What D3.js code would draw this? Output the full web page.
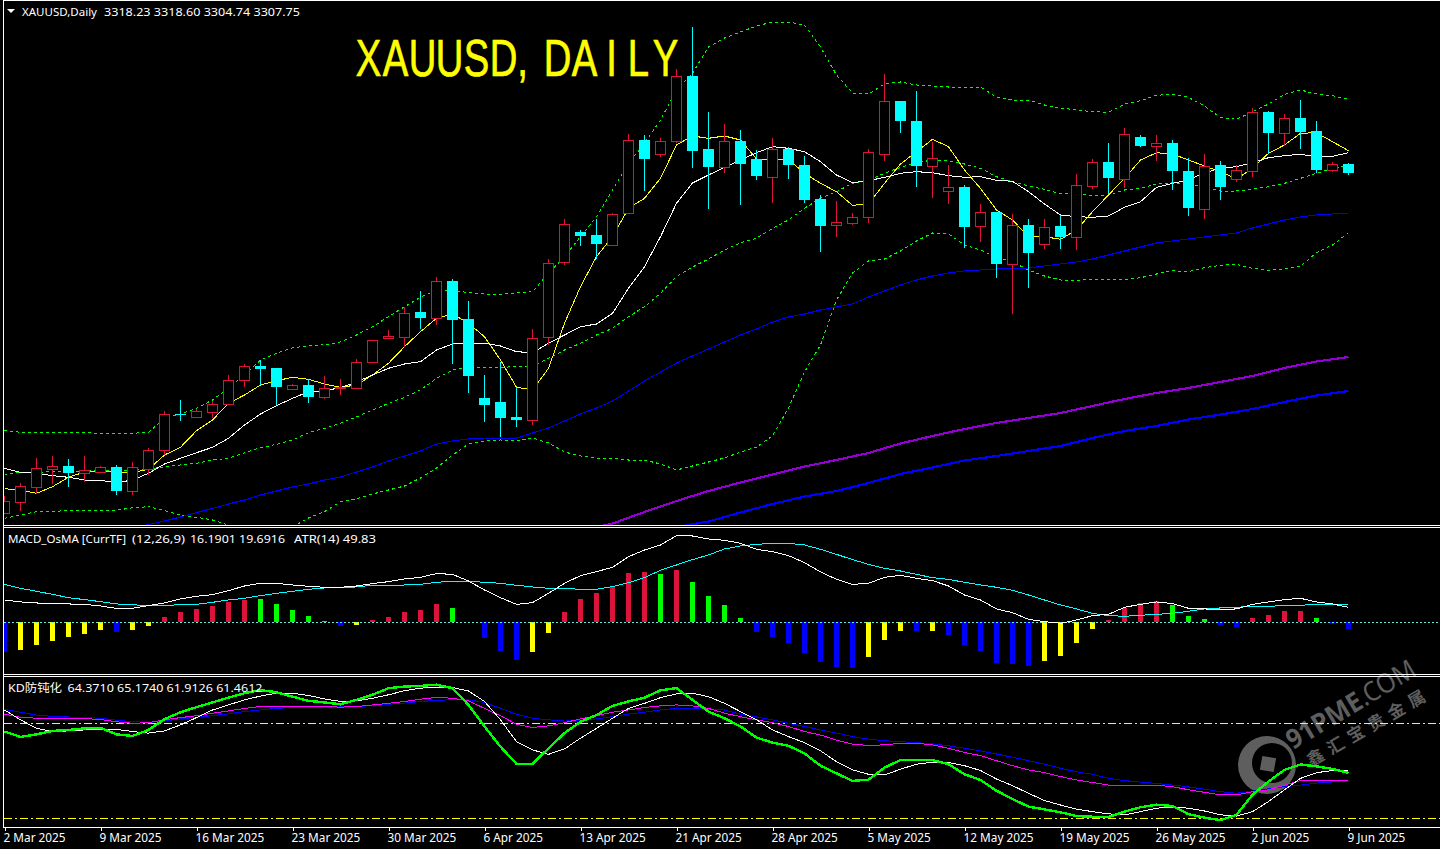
<!DOCTYPE html>
<html><head><meta charset="utf-8">
<script src="https://cdn.jsdelivr.net/npm/d3@7"></script>
<style>html,body{margin:0;padding:0;background:#000;overflow:hidden}svg{display:block}
text{font-family:"Noto Sans","Noto Sans CJK SC",sans-serif;fill:#fff}</style></head>
<body><svg id="c" width="1440" height="849"></svg>
<script>
const barOpen=[2969,2979.7,2995.3,3013.3,3016,3009.3,3010.3,3015,2991.3,3013.3,
3031.7,3068.3,3065.3,3070.3,3078.3,3101.7,3116,3114,3093.3,3097,
3085.3,3093.7,3094.5,3119.7,3143.7,3145.3,3170,3164.3,3201,3163,
3084,3080,3065,3062.3,3144.7,3220.3,3250,3247,3237.3,3269.3,
3342,3328.3,3340.7,3406,3333,3315.3,3341,3323,3305.3,3333.3,
3317,3283,3257.3,3258.7,3265.3,3328.3,3381,3361,3316.3,3291.3,
3295,3256.3,3270,3218.3,3257,3238.5,3256,3245.3,3296.3,3320,
3303.3,3345,3336.3,3339,3311,3273.3,3317,3303.3,3311.3,3370,
3349.3,3364,3351,3312.3,3318.23];
const barHigh=[2986,2999,3024,3026,3023,3026,3016,3016.7,3020,3034,
3070.7,3082,3073.3,3080.7,3106.7,3118,3122,3114,3098,3102.7,
3106,3103,3123,3142,3151.7,3174.7,3191,3205,3203,3181,
3107,3120.3,3095.3,3153,3223,3263,3252,3263,3268.7,3348,
3346.7,3343.7,3412.7,3455,3370,3357.7,3352,3332,3343.7,3334.7,
3326,3287,3281,3268.7,3333,3408,3381,3391,3340,3316.7,
3297,3278,3270,3268,3263,3262.7,3267,3308,3323,3338.7,
3354,3347,3346.7,3341.7,3323.7,3328,3321,3317,3374,3371,
3368,3382,3361,3320,3318.6];
const barLow=[2968,2971.3,2988,2998,2995.3,3000.3,3009.3,2987,2987,3007.3,
3027,3061,3065.3,3064,3078.3,3095.3,3097,3077,3093.3,3079.3,
3083,3087.3,3094.5,3119.7,3142.7,3134.7,3153,3157,3118,3089.3,
3060.3,3045.3,3055.3,3057.3,3137,3217,3236.3,3223,3236,3269.3,
3291.3,3325,3339.3,3314.3,3273.3,3309.3,3277.3,3302,3279.3,3303,
3279.3,3230.3,3245.3,3257,3259.3,3321.3,3349.3,3295.3,3284.3,3278,
3234,3240.3,3204,3168.3,3194,3233,3233,3232,3293,3288,
3294,3335,3321,3292,3266,3263,3282,3300.3,3305,3328,
3336.3,3333,3309,3310,3307];
const barClose=[2981,2995.7,3013.7,3016,3009.3,3012,3014.7,2991.3,3014.7,3031.7,
3067.7,3067,3070.7,3077.7,3101.7,3115.7,3113,3095.3,3096.7,3085.3,
3093.7,3094.7,3119.7,3141.7,3145.7,3168.7,3164,3200.7,3162.3,3106.3,
3077.3,3064.3,3062,3143.7,3218.7,3257.7,3246,3238,3267.7,3341.7,
3323.3,3340.7,3405.7,3331.3,3315.3,3340.7,3318,3306.3,3333,3317,
3282,3256.3,3259.7,3264.7,3329.7,3380.7,3361,3316,3323.7,3294.7,
3255.3,3269.7,3218,3256.7,3229.3,3254.7,3245,3296.7,3319.7,3304,
3347.7,3336,3338.7,3311,3274,3315.7,3295,3311.7,3369.7,3349,
3363.7,3350,3312,3317.7,3309.3];
const maFast=[2993.3,2992,2988.7,2995.3,3004.7,3010,3011.3,3010.3,3009.3,3012.7,3027,3034.7,3051.3,3062,3078.7,3087,3097,3101.3,3104.7,3102.7,3098,3094.7,3097,
3107,3118.7,3135.3,3150.3,3163.7,3168,3158.7,3145.3,3122,3094.7,3092,3113.7,3158.7,3195.3,3225.3,3245.3,3273.7,3283.7,3303.7,3337,3346,
3343.7,3346,3342,3323,3322.7,3322.7,3308.7,3298.7,3290.3,3276.7,3278,3298.7,3318,3330.3,3342.7,3335.3,3312,3293.7,3272,3262,3245.3,
3245.3,3242.7,3252,3270.3,3287,3303.7,3322,3329.3,3328,3322,3316,3310.3,3303,3313.7,3328.7,3337,3348.7,3349.3,3340.3,3331.3];
const maSlow=[3013.7,3009.7,3008.7,3006.3,3004.7,3002,3001.7,2999.3,3002,3008.7,3018,3023.7,3029.3,3034.7,3043.7,3057,3068,3076.3,3083.7,3090.3,3091.3,3094.3,3100,
3107,3113.7,3118,3120.3,3132,3138,3139,3138.7,3136,3130.3,3129.3,3138.7,3147,3155.3,3158,3168.7,3193.7,3215.3,3245.3,3278.7,3299,
3307,3314.7,3322,3329.3,3335.3,3333.7,3330.3,3320.3,3307,3299.3,3301.3,3304.7,3308.7,3310.3,3309.3,3306.3,3304.7,3305.3,3301.7,3300.7,3290.3,
3278,3267,3265.3,3264.7,3266,3274.7,3280.3,3294.7,3298.7,3302,3309.3,3313.7,3315.3,3319.3,3324.3,3326.3,3327.7,3325.3,3325.7,3329.3];
const bollUpper=[3051.7,3049.7,3049.7,3049.7,3049.7,3049.3,3048.7,3048.7,3048.7,3049.7,3063.7,3068,3073.7,3082,3093.7,3107,3122,3128.7,3134.3,3136,3137.3,3140,3147,
3155.3,3165.3,3175.3,3184.7,3192,3192,3189.3,3188,3187.7,3189,3190.3,3208.7,3225.3,3245.3,3265.3,3292,3318.7,3338.7,3362,3392,3408.7,
3435,3444,3450,3456,3460,3460,3457,3435,3407,3389,3388,3398,3400,3397,3396,3395,3395,3395,3385,3382,3382,
3377,3374,3372,3370.3,3369.7,3378,3381.3,3386.7,3387.7,3384.7,3376,3364.3,3362.7,3370.3,3378,3387.7,3392,3388,3386.3,3382.7];
const bollMid=[3007.7,3010,3009.7,3010.3,3010.3,3011,3011.7,3012,3012,3012.7,3015.3,3017,3018.7,3022,3023.7,3029.3,3034.3,3037.7,3042,3049.3,3053.7,3058.7,3065,
3072,3078.7,3084.7,3092,3103.7,3112,3114.7,3114.7,3114.7,3115.3,3116,3123.7,3132,3138.7,3147,3153.7,3165.3,3175.3,3188.7,3205.3,3215,
3223,3232,3239.3,3243.7,3253.7,3262,3273.7,3283.7,3290.3,3298.7,3302,3308.7,3314.7,3319.3,3322,3321,3318,3313.7,3305.3,3300.3,3296,
3292.7,3288,3288.7,3286.3,3287,3292,3293.7,3298,3299.3,3298,3294.7,3291,3291,3292.7,3295.3,3298.7,3303.7,3308.7,3313.7,3317];
const bollLower=[2963.7,2967,2970.3,2970.3,2971.7,2971.7,2971.7,2971.7,2974.3,2975.3,2971.3,2967,2964.7,2962,2957,2952,2948,2947,2955,2964,2970.3,2980.3,2983.3,
2988,2992,2996,3004,3014,3027,3038,3041,3042,3041,3044,3039,3030,3026,3024,3024,3022,3022,3018,3012,3016,
3020,3024,3030,3035,3046,3074,3110,3137,3182,3209,3221,3223,3231,3241,3249,3248,3237,3232,3225,3220,3212,
3206,3202,3201.7,3202.7,3202.7,3202,3204.3,3208,3211.3,3210.3,3214.3,3216.7,3217.7,3213.7,3211.7,3213,3216,3229.3,3237,3249.3];
const maMidFirstBar=8;
const maMid=[2954,2957.5,2961,2965,2969.5,2973.5,2978,2982,2987,2991,2995,2998,3002,3005,3010,3015,3021,3026,3031,3038,3041,3043,3044,3044,3044,3049,3054,3061,3068,3074,3081,3091,3101,3110,3119,3126,
3133,3140,3147,3153,3160,3165,3168,3172,3175,3178,3185,3191,3197,3202,3206,3209,3211,3212,3213,3214,3214,3216,3218,
3220,3223,3227,3231,3235,3239,3241,3243,3245,3247,3249,3254,3258,3262,3265,3267,3268,3269];
const maLongBars=[36,38,40,42,44,46,48,50,52,54,56,58,60,62,64,66,68,70,72,74,76,78,80,82,84];
const maLong=[2951,2958.5,2970,2981,2991,2999.5,3007.5,3015.5,3022,3029,3038.5,3046,3053,3059,3064,3069,3076,3083,3089,3094,3100,3106,3114,3120.5,3125];
const maLonger2Bars=[42,44,46,48,50,52,54,56,58,60,62,64,66,68,70,72,74,76,78,80,82,84];
const maLonger2=[2955,2960.5,2969.5,2978,2985.5,2991,2999,3008,3014.5,3021.5,3026,3031,3036,3044,3051,3056,3062.5,3067.5,3073,3080,3086.5,3091];
const osma=[-15.75,-14.5,-11.9,-9.8,-7.7,-6.1,-4,-5.1,-4,-1.9,2.8,5.4,7,8.6,10.7,11.9,12.3,9.6,6.5,3.3,0.7,-1.9,-1.4,1.2,2.8,5.4,6.5,9.6,7.5,0,-8.4,-15,-19.8,-15.6,-5.6,5.4,12.3,15.4,18.6,25.9,26.4,25.4,27.5,21.2,13.8,
9.1,2.3,-5.1,-7.7,-10.9,-16.1,-20.8,-23.5,-24,-18.2,-9.3,-4.6,-4.6,-4.6,-6.7,-11.9,-15,-21.4,-21.9,-22.9,-20.3,-17.7,-10.9,-3.5,1.2,7.5,10.2,11.2,9.1,3.3,1.8,-1.4,-2.5,2.3,3.9,6,6,2.3,-0.9,-3.5];
const osmaColorKey=["b","y","y","y","y","y","y","b","y","y","r","r","r","r","r","r","g","g","g","g","g","b","y","r","r","r","r","r","g","g","b","b","b","y","y","r","r","r","r","r","r","g","r","g","g",
"g","g","b","b","b","b","b","b","b","y","y","y","b","y","b","b","b","b","b","b","y","y","y","y","r","r","r","r","g","g","g","b","b","r","r","r","r","g","b","b"];
const macdLine=[24.1,22,20.9,19.8,19.8,19.4,17.6,15.1,15.1,18,20.9,25.2,28.1,29.9,34.2,39.2,42.1,42.1,40.3,38.9,37.8,37.8,39.2,41.8,43.9,46.8,48.6,52.6,51.8,44.6,34.9,26.6,19.4,21.2,31.3,42.1,50.4,54.7,59.4,70.9,78.1,83.5,93.6,93.2,90,
88.6,85.3,78.8,76.3,72,64.4,54.4,46.4,41,42.1,48.6,50.8,47.5,45,39.2,29.5,24.1,14.4,10.4,3.2,0.7,-1.1,2.5,7.2,8.6,16.2,19.4,22,20.2,15.1,14.4,14,14.4,19.4,22,24.5,25.9,22,19.8,16.19];
const macdSignal=[41,36.7,33.5,30.2,26.6,24.5,22.3,19.8,19.1,17.6,18,19.1,19.4,21.6,24.1,25.9,28.8,31.3,33.5,35.6,37.1,37.4,38.2,40,40,40.3,41,43.2,44.3,44.3,43.2,42.1,40,38.2,36.7,36.7,35.6,35.6,38.5,42.8,48.2,56.2,61.9,67.7,72.7,
79.2,82.4,84.2,85.3,85.3,83.5,78.8,73.4,67.7,62.6,58.3,55.4,51.8,48.2,46.4,43.2,40.3,37.8,34.6,29.5,24.1,18.7,14.4,9.7,7.2,6.5,7.6,8.6,9.7,11.9,14.4,15.5,16.2,17.3,17.3,18,18.4,19.4,19.4,19.69];
const kdK1=[77.4,75.7,76.5,77.6,77.9,78.4,78.6,76.5,76,77.9,81.3,83.5,85.1,86.6,88.1,89.5,90.5,89.8,88.4,87.1,86.6,86,87.4,89,91.1,91.6,91.8,92.2,91.1,85.8,79,72.6,67.2,67.2,72.1,76.9,80.5,82.6,85.5,86.9,88.1,90.4,91.1,87.4,83.7,
81.6,79,75.5,73.9,72.9,70.5,66.6,64.2,61.8,62.2,66,68.4,68.4,68.4,67.1,63.9,62.1,58.7,56.1,53.7,52.8,51.9,50.7,50.5,50.4,52.1,53.5,54.3,53.9,51.3,50.2,49.4,51.1,57.4,61.6,65.3,67,66.4,65.6,64.37];
const kdD1=[84.2,81.1,78.4,77.4,77.6,77.9,78.1,78.1,77.4,76.9,77.6,79.5,81.8,84.2,85.8,87.4,88.6,89.5,89.5,88.8,87.7,86.9,87.1,87.9,89,90.3,91.1,91.4,91.3,90.2,86.9,81.1,74.2,71.6,70.2,71.9,75.3,78.4,81.6,84.7,86.3,88.1,89.3,89.5,88.4,
86.3,83.7,81.1,77.9,75.8,73.9,71.3,67.9,65.3,63.9,63.7,65.5,67.1,67.7,67.6,66.6,65.1,62.4,60.3,57.9,55.6,54.2,52.9,52.1,51.4,51.1,52.1,53.2,53.5,53.2,52.3,51.1,50.7,52.1,55.3,59,62.6,64.4,65.1,65.174];
const kdK2=[82.9,81.9,81.6,81.6,81.6,81.5,81.2,80.5,80,80.2,81.1,81.8,82.4,83.2,83.9,84.7,85.3,85.4,85.4,85.3,85.3,85.1,85.3,85.8,86.3,86.9,87.6,88.2,87.9,87.1,84.7,82.4,79.7,78.7,79.2,80.2,81.4,82.4,83.5,84.2,85,85.5,85.8,85.5,84.7,
83.2,82.1,81.1,80.2,79,77.4,76.3,74.7,73.4,73,73.2,73.7,73.7,73.2,72.1,70.8,69.8,68.2,66.6,65.3,64.4,63.2,62.1,61.3,60.5,60.4,60.4,60.4,60,59,58.2,57.4,57.4,58.4,59,60.5,61.9,62,61.9,61.9126];
const kdD2=[84.4,83.5,82.6,82.2,82,81.8,81.6,81,80.5,80.3,80.7,81.4,81.9,82.4,83,83.7,84.2,84.7,85,85.1,85.1,85.2,85.3,85.6,86,86.4,86.9,87.2,87.5,87.4,86.6,84.7,82.9,81.6,81.1,80.7,81,81.4,82.1,82.9,83.5,84.2,84.7,84.7,84.5,
84.2,82.9,82,81.1,80,79,77.9,76.9,75.8,75,74.5,74.2,73.9,73.5,72.9,72.1,71.3,70.3,69.3,68.2,67.1,65.8,64.7,63.9,62.6,61.9,61.4,61,60.5,59.9,59.2,58.4,57.9,58.6,59.3,60,60.5,61.1,61.5,61.4612];
const kdLevels=[80,50];
const tickBars=[0,6,12,18,24,30,36,42,48,54,60,66,72,78,84];
const tickLabels=["2 Mar 2025","9 Mar 2025","16 Mar 2025","23 Mar 2025","30 Mar 2025","6 Apr 2025","13 Apr 2025","21 Apr 2025","28 Apr 2025","5 May 2025","12 May 2025","19 May 2025","26 May 2025","2 Jun 2025","9 Jun 2025"];
const headerMain=["XAUUSD,Daily","3318.23 3318.60 3304.74 3307.75"];
const headerMacd=["MACD_OsMA [CurrTF]","(12,26,9)","16.1901 19.6916","ATR(14) 49.83"];
const headerKd=["KD防钝化","64.3710 65.1740 61.9126 61.4612"];
const titleText="XAUUSD,DAILY";

const UP="#dc143c",DOWN="#00ffff";
const osmaColors={r:"#dc143c",g:"#00ff00",b:"#0000ff",y:"#ffff00"};
const svg=d3.select("#c");
const x=d3.scaleLinear().domain([0,84]).range([4,1348]);
const y=d3.scaleLinear().domain([3480,2957]).range([2,525]);
const yMacd=d3.scaleLinear().domain([0,108]).range([622.3,522.3]);
const yOsma=d3.scaleLinear().domain([0,52.5]).range([622.3,522.3]);
const yKd=d3.scaleLinear().domain([50,80]).range([818.3,723.3]);

// watermark sits behind everything
const WM="#5e5e5e";
const wm=svg.append("g");
const ring=d3.path();
ring.arc(1267,765,29,0,2*Math.PI);ring.closePath();
ring.moveTo(1292,763);ring.arc(1272,763,20,0,2*Math.PI);ring.closePath();
wm.append("path").attr("fill-rule","evenodd").attr("fill",WM).attr("d",ring.toString());
wm.append("rect").attr("x",-7).attr("y",-7).attr("width",14).attr("height",14).attr("fill",WM).attr("transform","translate(1268,764) rotate(10)");
const wt=wm.append("g").attr("transform","translate(1293,750) rotate(-31)");
wt.append("text").attr("x",0).attr("y",0).style("font-size","27px").style("font-weight","700").style("fill",WM).attr("textLength",84).attr("lengthAdjust","spacingAndGlyphs").text("91PME");
wt.append("text").attr("x",84).attr("y",0).style("font-size","27px").style("fill",WM).attr("textLength",62).attr("lengthAdjust","spacingAndGlyphs").text(".COM");
wm.append("text").attr("transform","translate(1311,767) rotate(-30)").style("font-size","17px").style("font-family","'Noto Sans CJK SC'").style("font-weight","700").style("fill",WM).attr("textLength",134).text("鑫汇宝贵金属");

const defs=svg.append("defs");
const clip=(id,a,b)=>defs.append("clipPath").attr("id",id).append("rect").attr("x",4).attr("y",a).attr("width",1436).attr("height",b-a);
clip("cm",1,525);clip("cd",528,674);clip("ck",677,827);

const gm=svg.append("g").attr("clip-path","url(#cm)").attr("shape-rendering","crispEdges");
const gd=svg.append("g").attr("clip-path","url(#cd)").attr("shape-rendering","crispEdges");
const gk=svg.append("g").attr("clip-path","url(#ck)").attr("shape-rendering","crispEdges");

function draw(g,vals,sc,col,w,dash,bars){
  const ln=d3.line().x((d,i)=>x(bars?bars[i]:i)+.5).y(d=>sc(d));
  g.append("path").attr("d",ln(vals)).attr("fill","none").attr("stroke",col).attr("stroke-width",w).attr("stroke-dasharray",dash||null);
}
const maMidBars=maMid.map((_,i)=>i+maMidFirstBar);
draw(gm,bollUpper,y,"#00ff00",1,"3,3");
draw(gm,bollMid,y,"#00ff00",1,"3,3");
draw(gm,bollLower,y,"#00ff00",1,"3,3");
draw(gm,maMid,y,"#0000ff",1,null,maMidBars);
draw(gm,maLong,y,"#9400d3",2.2,null,maLongBars);
draw(gm,maLonger2,y,"#0000ff",2.2,null,maLonger2Bars);
draw(gm,maFast,y,"#ffff00",1);
draw(gm,maSlow,y,"#ffffff",1);

barOpen.forEach((o,i)=>{
  const c=barClose[i],up=c>=o,col=up?UP:DOWN,cx=x(i);
  const top=Math.round(y(Math.max(o,c))),bot=Math.round(y(Math.min(o,c)));
  gm.append("line").attr("x1",cx+.5).attr("x2",cx+.5).attr("y1",Math.round(y(barHigh[i]))).attr("y2",Math.round(y(barLow[i]))).attr("stroke",col);
  if(up){gm.append("rect").attr("x",cx-4.5).attr("y",top+.5).attr("width",10).attr("height",Math.max(bot-top,1)).attr("fill","#000").attr("stroke",col);}
  else{gm.append("rect").attr("x",cx-5).attr("y",top).attr("width",11).attr("height",Math.max(bot-top,1)).attr("fill",col);}
});

gd.selectAll("rect.h").data(osma).join("rect").attr("class","h")
 .attr("x",(d,i)=>x(i)-2).attr("width",5)
 .attr("y",d=>d>=0?yOsma(d):yOsma(0)).attr("height",d=>Math.abs(yOsma(d)-yOsma(0)))
 .attr("fill",(d,i)=>osmaColors[osmaColorKey[i]]);
gd.append("line").attr("x1",4).attr("x2",1440).attr("y1",yMacd(0)).attr("y2",yMacd(0)).attr("stroke","#66e8d8").attr("stroke-dasharray","2,2");
draw(gd,macdSignal,yMacd,"#00ffff",1);
draw(gd,macdLine,yMacd,"#ffffff",1);

kdLevels.forEach(l=>{const ly=Math.floor(yKd(l))+.5;gk.append("line").attr("x1",4).attr("x2",1440).attr("y1",ly).attr("y2",ly).attr("stroke","#ffff00").attr("stroke-dasharray","8,3,2,3");});
draw(gk,kdD2,yKd,"#0000ff",1);
draw(gk,kdK2,yKd,"#ff00ff",1);
draw(gk,kdD1,yKd,"#ffffff",1);
draw(gk,kdK1,yKd,"#00ff00",2.4);

// frames
const fr=svg.append("g").attr("stroke","#fff").attr("shape-rendering","crispEdges");
[0.5,525.5,527.5,674.5,676.5].forEach(v=>fr.append("line").attr("x1",3).attr("x2",1440).attr("y1",v).attr("y2",v));
fr.append("line").attr("x1",3.5).attr("x2",3.5).attr("y1",0).attr("y2",827);

// axis
const ax=d3.axisBottom(x).tickValues(tickBars).tickFormat((d,i)=>tickLabels[i]).tickSize(3).tickSizeOuter(0).tickPadding(3);
const ag=svg.append("g").attr("transform","translate(0.5,827.5)").call(ax);
ag.selectAll(".domain").remove();
ag.selectAll("line").attr("stroke","#fff").attr("shape-rendering","crispEdges");
ag.selectAll("text").attr("text-anchor","start").attr("x",-1.5).attr("y",5).attr("dy","0.8em").attr("fill","#fff").style("font-size","11.8px");
svg.append("line").attr("x1",3).attr("x2",1440).attr("y1",827.5).attr("y2",827.5).attr("stroke","#fff").attr("shape-rendering","crispEdges");

// texts
svg.append("path").attr("d",d3.line()([[7,9],[15,9],[11,13]])+"Z").attr("fill","#fff");
const t=(s,tx,ty,len)=>svg.append("text").attr("x",tx).attr("y",ty).attr("textLength",len).attr("lengthAdjust","spacingAndGlyphs").style("font-size","11.5px").text(s);
t(headerMain[0],22,16,75);t(headerMain[1],104,16,196);
t(headerMacd[0],8,543,118);t(headerMacd[1],132,543,53);t(headerMacd[2],190,543,95);t(headerMacd[3],294,543,82);
t(headerKd[0],8,692,54);t(headerKd[1],67.5,692,195);

// title: fixed-pitch cells
const titleScale=0.75, titlePitch=27, titleFirst=368.5;
const titleXs=Array.from(titleText,(ch,i)=>((ch===","?titleFirst+i*titlePitch-8:titleFirst+i*titlePitch)/titleScale).toFixed(1)).join(" ");
svg.append("g").attr("transform",`scale(${titleScale},1)`).append("text").attr("x",titleXs).attr("y",76).attr("text-anchor","middle")
 .style("font-family","'Liberation Sans',sans-serif").style("font-size","51px").style("fill","#ffff00").style("stroke","#ffff00").style("stroke-width","0.7px").text(titleText);
</script></body></html>
